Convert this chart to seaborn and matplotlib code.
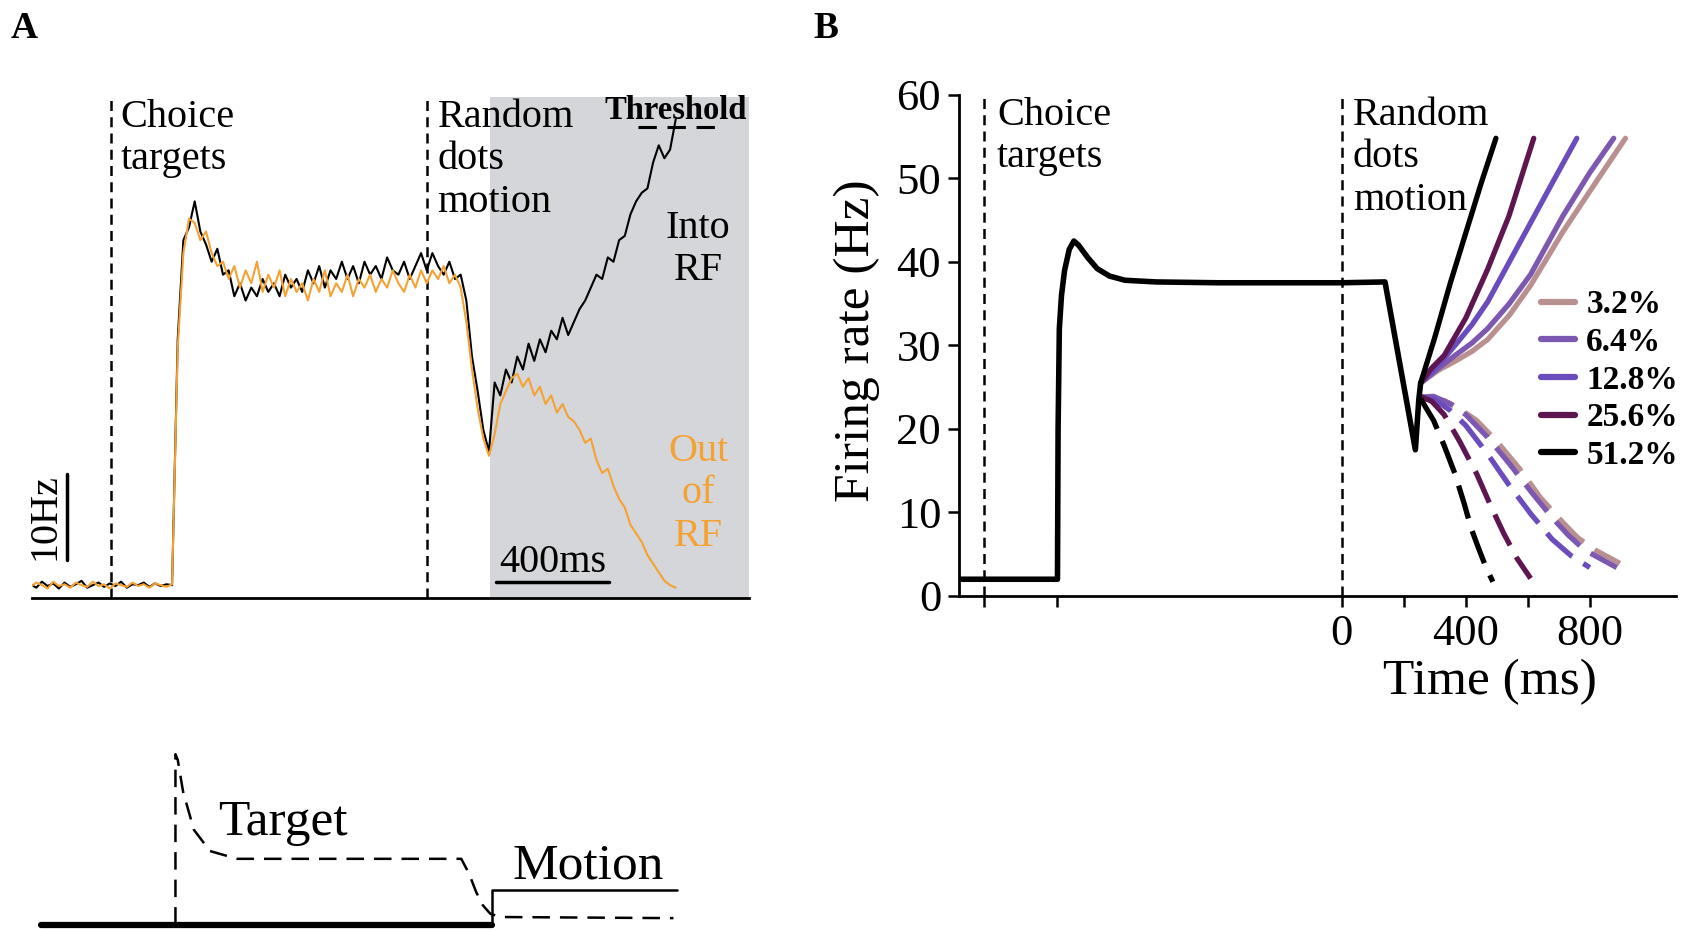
import numpy as np
import pandas as pd
import matplotlib
matplotlib.use("Agg")
import matplotlib.pyplot as plt
import seaborn as sns
from matplotlib.lines import Line2D

# ---------------- panel A: recorded LIP traces (Hz), one value per 20 ms
trace_time = np.arange(-1400, 881, 20)
into_rf = [
    1.6, 1.2, 1.9, 1.4, 1.7, 1.1, 1.8, 1.3, 1.6, 2.0, 1.2, 1.5, 1.8, 1.3, 1.7, 1.4,
    1.9, 1.2, 1.6, 1.5, 1.8, 1.3, 1.7, 1.4, 1.6, 1.5,
    30.0, 41.5, 43.0, 46.0, 42.5, 41.0, 39.0, 40.5, 37.5, 38.0, 35.0, 36.5, 34.5,
    36.0, 35.0, 37.0, 35.5, 36.5, 35.0, 37.5, 36.0, 37.0, 35.5, 38.0, 36.5, 38.5,
    36.0, 38.0, 37.0, 39.0, 37.0, 38.5, 36.5, 39.0, 37.5, 38.5, 37.0, 39.5, 38.0,
    37.5, 39.0, 37.0, 38.5, 40.0, 38.0, 40.0, 38.5, 37.5, 39.0, 37.0, 37.5,
    34.5, 28.0, 24.0, 19.5, 17.0, 25.0, 23.5, 26.5, 25.0, 28.0, 26.5, 29.5, 27.5,
    30.0, 28.5, 31.0, 30.0, 32.5, 30.5, 32.0, 33.5, 34.5, 36.0, 37.5, 37.0, 39.5,
    39.0, 41.5, 42.0, 44.5, 46.0, 47.0, 47.5, 50.5, 52.5, 51.0, 52.0, 55.5,
]
out_rf = [
    1.3, 1.8, 1.5, 1.1, 1.9, 1.4, 1.6, 1.2, 1.8, 1.5, 1.3, 1.9, 1.4, 1.6, 1.1, 1.7,
    1.5, 1.3, 1.8, 1.4, 1.6, 1.2, 1.7, 1.5, 1.3, 1.6,
    29.0, 40.0, 44.0, 43.5, 41.5, 42.5, 40.0, 38.5, 39.0, 37.0, 38.5, 36.0, 38.0,
    36.5, 39.0, 35.5, 37.5, 36.0, 38.0, 35.0, 37.0, 35.5, 36.5, 34.5, 37.0, 35.5,
    38.0, 35.0, 36.5, 35.5, 37.5, 35.0, 37.0, 36.0, 37.5, 35.5, 37.0, 36.0, 38.0,
    36.5, 35.5, 37.5, 36.0, 38.0, 36.5, 38.0, 37.0, 38.5, 36.5, 37.5, 36.0,
    32.0, 26.5, 22.0, 18.5, 16.5, 19.0, 22.5, 24.0, 25.5, 26.0, 24.5, 25.5, 23.5,
    24.5, 22.5, 23.5, 21.5, 22.5, 21.0, 20.5, 19.5, 18.0, 18.5, 16.0, 14.5, 15.0,
    13.0, 11.5, 10.5, 8.5, 7.5, 6.5, 5.0, 4.0, 3.0, 2.0, 1.5, 1.2,
]
targets_on_a = -1116      # ms, "Choice targets" marker
motion_on_a = 0           # ms, "Random dots motion" marker
shade_start = 225         # ms
threshold_a = 54.6        # Hz

# ---------------- panel C: input schematic (arbitrary units)
target_time = [-888, -888, -880, -861, -823, -766, -670, 122, 149, 175, 198, 225, 263, 872]
target_input = [0.023, 0.942, 0.913, 0.74, 0.535, 0.42, 0.378, 0.378, 0.30, 0.198,
                0.128, 0.081, 0.064, 0.058]
baseline_time = [-1364, 232]
baseline_input = [0.023, 0.023]
motion_time = [232, 232, 884]
motion_input = [0.023, 0.209, 0.209]

# ---------------- panel B: model firing rate (Hz)
common_time = [-1235, -918, -916, -912, -905, -895, -880, -865, -850, -820, -790,
               -750, -700, -600, -400, 0, 139, 237, 248, 254]
common_rate = [2, 2, 20, 32, 36, 39, 41.5, 42.5, 42, 40.5, 39.2, 38.3, 37.8, 37.6,
               37.5, 37.5, 37.6, 17.5, 23.5, 25.5]
coherences = ['3.2%', '6.4%', '12.8%', '25.6%', '51.2%']
coh_colors = ['#b8908f', '#7d58b0', '#6a4cbc', '#5e1650', '#000000']
into_time = {
    '51.2%': [254, 300, 350, 400, 450, 497],
    '25.6%': [254, 290, 330, 400, 470, 539, 619],
    '12.8%': [254, 310, 365, 420, 470, 574, 678, 758],
    '6.4%': [254, 310, 365, 420, 470, 540, 609, 713, 800, 877],
    '3.2%': [254, 310, 365, 420, 470, 540, 609, 713, 817, 915],
}
into_rate = {
    '51.2%': [25.5, 31.0, 37.5, 43.5, 49.5, 54.8],
    '25.6%': [25.5, 27.3, 28.8, 33.3, 39.1, 45.5, 54.8],
    '12.8%': [25.5, 27.6, 30.0, 32.5, 35.2, 42.3, 49.4, 54.8],
    '6.4%': [25.5, 27.2, 28.8, 30.3, 32.0, 35.0, 38.5, 45.5, 50.7, 54.8],
    '3.2%': [25.5, 27.0, 28.1, 29.3, 30.7, 33.6, 37.2, 43.6, 49.4, 54.8],
}
out_time = {
    '51.2%': [254, 296, 330, 365, 395, 417, 440, 463, 487],
    '25.6%': [254, 290, 330, 380, 435, 480, 522, 565, 609],
    '12.8%': [254, 296, 350, 400, 470, 539, 610, 678, 740, 800],
    '6.4%': [254, 296, 350, 400, 470, 539, 610, 678, 730, 783, 887],
    '3.2%': [254, 330, 380, 435, 500, 574, 640, 713, 760, 817, 897],
}
out_rate = {
    '51.2%': [23.6, 21.0, 18.0, 14.6, 11.0, 8.1, 5.8, 3.6, 1.7],
    '25.6%': [23.9, 23.3, 21.7, 18.5, 14.6, 10.8, 7.5, 4.5, 2.1],
    '12.8%': [23.8, 23.6, 22.2, 20.4, 17.0, 13.3, 9.8, 6.8, 4.8, 3.4],
    '6.4%': [23.8, 23.9, 23.0, 21.7, 19.0, 15.9, 12.5, 9.4, 7.3, 5.5, 3.4],
    '3.2%': [23.6, 23.4, 22.4, 21.0, 18.5, 15.2, 11.8, 8.8, 7.0, 5.5, 3.9],
}
targets_on_b = -1155
motion_on_b = 0
target_jump_b = -918

rows = []
for coh in coherences:
    for t, r in zip(into_time[coh], into_rate[coh]):
        rows.append({'coherence': coh, 'direction': 'into', 'time': t, 'rate': r})
    for t, r in zip(out_time[coh], out_rate[coh]):
        rows.append({'coherence': coh, 'direction': 'out', 'time': t, 'rate': r})
branches = pd.DataFrame(rows)

# ---------------- style
sns.set_style('white')
plt.rcParams['font.family'] = ['Liberation Serif', 'DejaVu Serif']
plt.rcParams['text.color'] = 'k'
plt.rcParams['axes.labelcolor'] = 'k'
ORANGE = '#f4a234'
GREY = '#d5d6d9'
DASH = (0, (4, 2.5))
LS = 1.2  # line spacing of the multi-line labels

fig = plt.figure(figsize=(16.9, 9.3), dpi=100)
ax_a = fig.add_axes([0.0191, 0.3569, 0.4241, 0.5388])
ax_b = fig.add_axes([0.5676, 0.3592, 0.4241, 0.5388])
ax_c = fig.add_axes([0.0191, 0.0012, 0.4241, 0.1993])

# ---- panel A
ax_a.axvspan(shade_start, 1139, color=GREY, lw=0, zorder=0)
for t0 in [targets_on_a, motion_on_a]:
    ax_a.axvline(t0, color='k', lw=1.8, ls=DASH, zorder=1)
sns.lineplot(x=trace_time, y=into_rf, color='k', lw=1.5, ax=ax_a, estimator=None)
sns.lineplot(x=trace_time, y=out_rf, color=ORANGE, lw=1.5, ax=ax_a, estimator=None)
ax_a.plot([747, 1051], [threshold_a, threshold_a], color='k', lw=2.2, ls=(0, (6, 3.5)))
ax_a.text(880, 56.5, 'Threshold', ha='center', va='center', fontsize=23.5, fontweight='bold')
ax_a.text(-1082, 57.9, 'Choice\ntargets', ha='left', va='top', fontsize=29, linespacing=LS)
ax_a.text(38, 57.9, 'Random\ndots\nmotion', ha='left', va='top', fontsize=29, linespacing=LS)
ax_a.text(960, 40.4, 'Into\nRF', ha='center', va='center', fontsize=29, linespacing=LS)
ax_a.text(960, 12.1, 'Out\nof\nRF', ha='center', va='center', fontsize=29,
          linespacing=LS, color=ORANGE)
# scale bars
ax_a.plot([244, 644], [1.9, 1.9], color='k', lw=2.5)
ax_a.text(444, 3.0, '400ms', ha='center', va='baseline', fontsize=29)
ax_a.plot([-1272, -1272], [4.4, 14.4], color='k', lw=2.5)
ax_a.text(-1349, 9.4, '10Hz', ha='center', va='center', rotation=90, fontsize=29)
ax_a.set_xlim(-1394, 1139)
ax_a.set_ylim(0, 58.1)
for s in ['left', 'top', 'right']:
    ax_a.spines[s].set_visible(False)
ax_a.spines['bottom'].set_linewidth(2)
ax_a.spines['bottom'].set_color('k')
ax_a.set_xticks([])
ax_a.set_yticks([])
ax_a.set_xlabel('')
ax_a.set_ylabel('')

# ---- panel C
sns.lineplot(x=baseline_time, y=baseline_input, color='k', lw=4.5, ax=ax_c,
             estimator=None, sort=False)
sns.lineplot(x=motion_time, y=motion_input, color='k', lw=1.8, ax=ax_c,
             estimator=None, sort=False)
sns.lineplot(x=target_time, y=target_input, color='k', lw=1.8, ax=ax_c,
             estimator=None, sort=False, linestyle=(0, (7, 4)))
ax_c.text(-510, 0.57, 'Target', ha='center', va='center', fontsize=37)
ax_c.text(570, 0.34, 'Motion', ha='center', va='center', fontsize=37)
ax_c.set_xlim(-1394, 1139)
ax_c.set_ylim(0, 1)
ax_c.axis('off')
for ln in ax_c.lines:
    ln.set_clip_on(False)

# ---- panel B
for t0 in [targets_on_b, motion_on_b]:
    ax_b.axvline(t0, color='k', lw=1.8, ls=DASH, zorder=1)
sns.lineplot(data=branches, x='time', y='rate', hue='coherence', style='direction',
             hue_order=coherences, palette=dict(zip(coherences, coh_colors)),
             dashes={'into': '', 'out': (6.5, 2.5)}, estimator=None, lw=3.8,
             legend=False, ax=ax_b)
sns.lineplot(x=common_time, y=common_rate, color='k', lw=4, ax=ax_b,
             estimator=None, sort=False)
ax_b.text(-1113, 59.8, 'Choice\ntargets', ha='left', va='top', fontsize=29, linespacing=LS)
ax_b.text(35, 59.8, 'Random\ndots\nmotion', ha='left', va='top', fontsize=29, linespacing=LS)
ax_b.set_xlim(-1235, 1078)
ax_b.set_ylim(0, 60)
ax_b.set_yticks([0, 10, 20, 30, 40, 50, 60])
ax_b.set_xticks([targets_on_b, target_jump_b, 0, 200, 400, 600, 800])
ax_b.set_xticklabels(['', '', '0', '', '400', '', '800'])
ax_b.tick_params(axis='both', direction='out', length=8, width=1.8, labelsize=32,
                 pad=5, colors='k')
ax_b.tick_params(axis='both', left=True, bottom=True)
for s in ['top', 'right']:
    ax_b.spines[s].set_visible(False)
for s in ['left', 'bottom']:
    ax_b.spines[s].set_linewidth(2)
    ax_b.spines[s].set_color('k')
ax_b.set_ylabel('Firing rate (Hz)', fontsize=37)
ax_b.set_xlabel('Time (ms)', fontsize=37)
ax_b.yaxis.set_label_coords(-0.143, 0.51)
ax_b.yaxis.label.set_va('center')
ax_b.xaxis.set_label_coords(0.741, -0.172)
ax_b.xaxis.label.set_va('center')

handles = [Line2D([0], [0], color=c, lw=4.5) for c in coh_colors]
ax_b.legend(handles, coherences, loc='upper left', bbox_to_anchor=(0.812, 0.612),
            frameon=False, handlelength=1.0, handletextpad=0.35, labelspacing=0.2,
            borderpad=0, borderaxespad=0,
            prop={'family': 'Liberation Serif', 'weight': 'bold', 'size': 24})

# panel letters
fig.text(0.0064, 0.969, 'A', fontsize=27, fontweight='bold', va='center', ha='left')
fig.text(0.4815, 0.969, 'B', fontsize=27, fontweight='bold', va='center', ha='left')

fig.savefig('out.png', dpi=100)
